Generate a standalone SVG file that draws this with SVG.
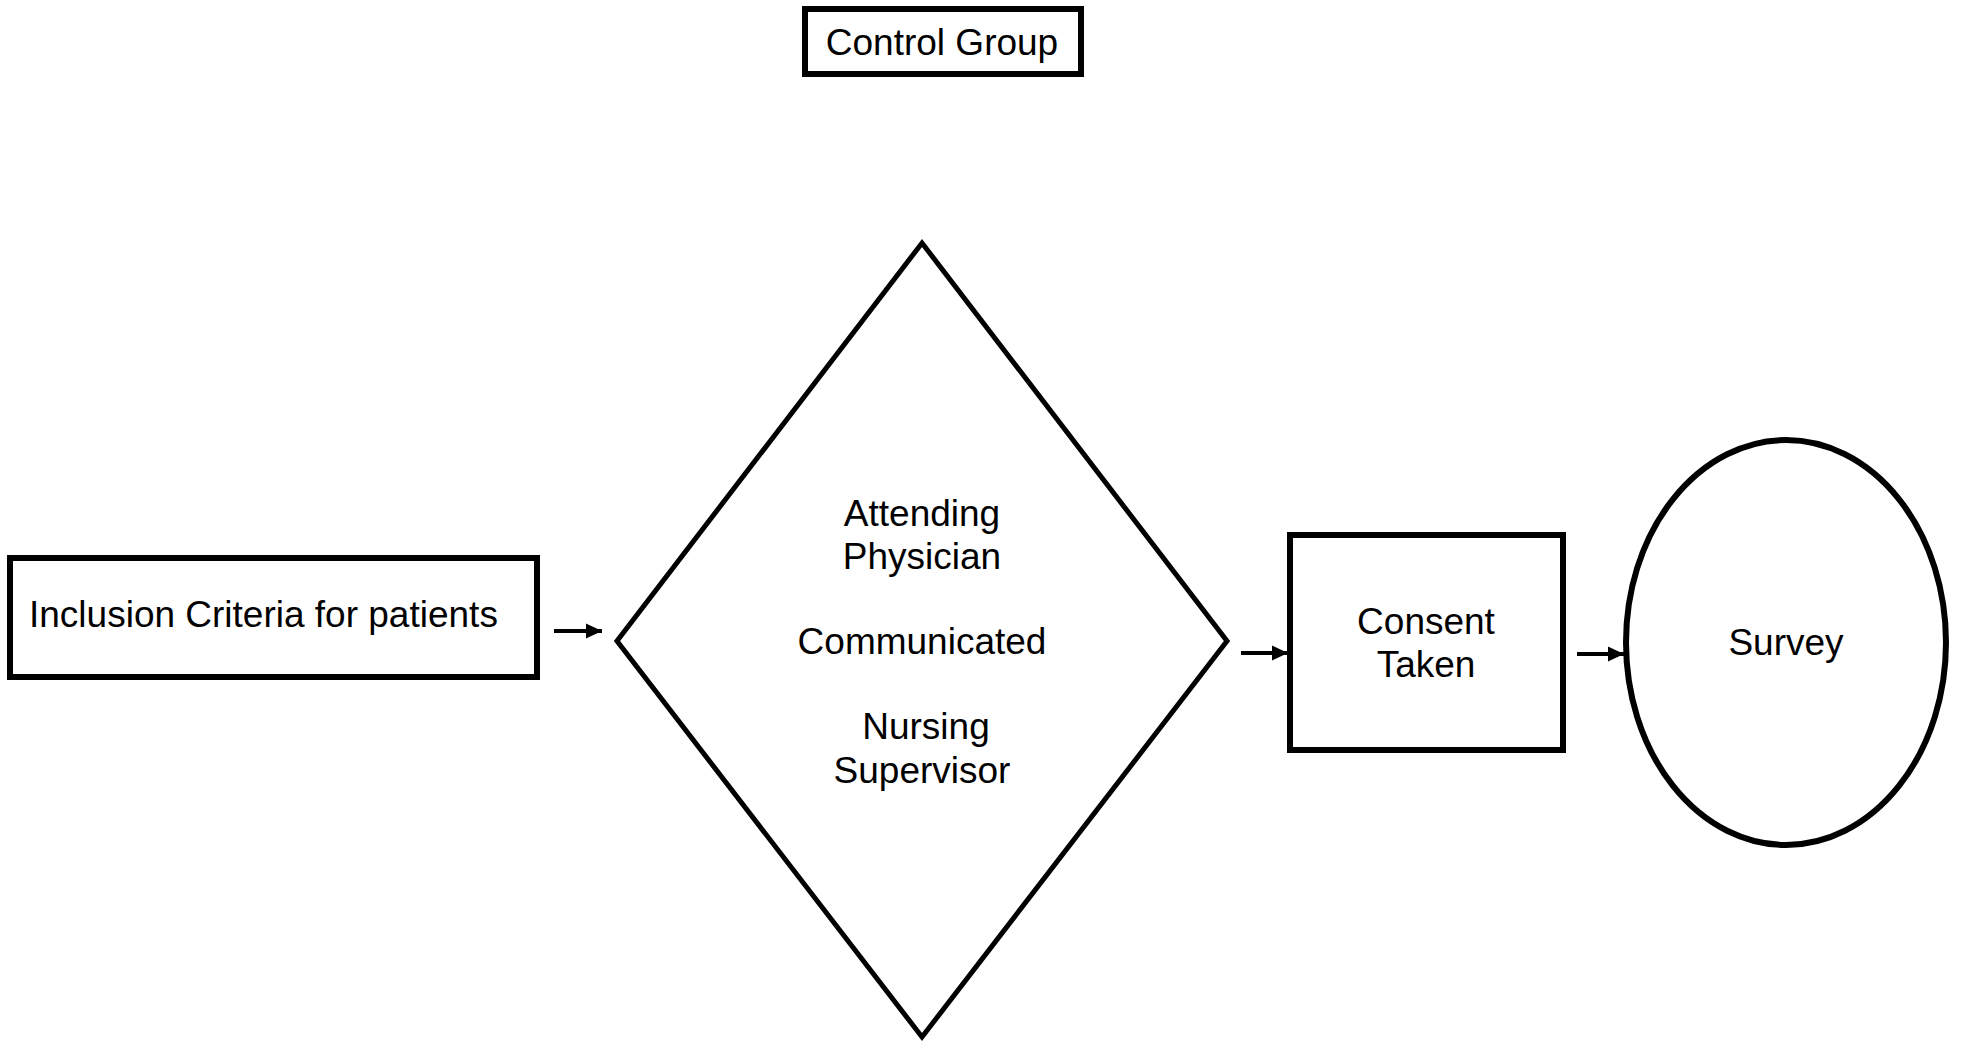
<svg xmlns="http://www.w3.org/2000/svg" width="1965" height="1047" viewBox="0 0 1965 1047">
  <style>
    .shape { fill: #ffffff; stroke: #000000; stroke-width: 6; }
    .thin { stroke-width: 5; }
    .label { font-family: "Liberation Sans", Arial, sans-serif; font-size: 37px; fill: #000000; }
    .mid { text-anchor: middle; }
    .conn { stroke: #000000; stroke-width: 4; fill: none; marker-end: url(#arrow); }
  </style>
  <defs>
    <marker id="arrow" markerUnits="userSpaceOnUse" markerWidth="16" markerHeight="16" viewBox="0 0 16 16" refX="16" refY="8" orient="auto">
      <path d="M0,0.5 L16,8 L0,15.5 Z" fill="#000000"/>
    </marker>
  </defs>
  <rect x="0" y="0" width="1965" height="1047" fill="#ffffff"/>

  <g id="control-group">
    <rect class="shape" x="805" y="9" width="276" height="65"/>
    <text class="label mid" x="942" y="55">Control Group</text>
  </g>

  <g id="inclusion">
    <rect class="shape" x="10" y="558" width="527" height="119"/>
    <text class="label" x="29" y="627">Inclusion Criteria for patients</text>
  </g>

  <g id="decision">
    <polygon class="shape thin" points="922,243 1227,641 922,1037 617,641"/>
    <text class="label mid" x="922" y="526">Attending</text>
    <text class="label mid" x="922" y="569">Physician</text>
    <text class="label mid" x="922" y="654">Communicated</text>
    <text class="label mid" x="926" y="739">Nursing</text>
    <text class="label mid" x="922" y="783">Supervisor</text>
  </g>

  <g id="consent">
    <rect class="shape" x="1290" y="535" width="273" height="215"/>
    <text class="label mid" x="1426" y="634">Consent</text>
    <text class="label mid" x="1426" y="677">Taken</text>
  </g>

  <g id="survey">
    <ellipse class="shape" cx="1786" cy="642.5" rx="160" ry="202.5"/>
    <text class="label mid" x="1786" y="655">Survey</text>
  </g>

  <g id="connectors">
    <line class="conn" x1="554" y1="631" x2="602" y2="631"/>
    <line class="conn" x1="1241" y1="653" x2="1288" y2="653"/>
    <line class="conn" x1="1577" y1="654" x2="1624" y2="654"/>
  </g>
</svg>
